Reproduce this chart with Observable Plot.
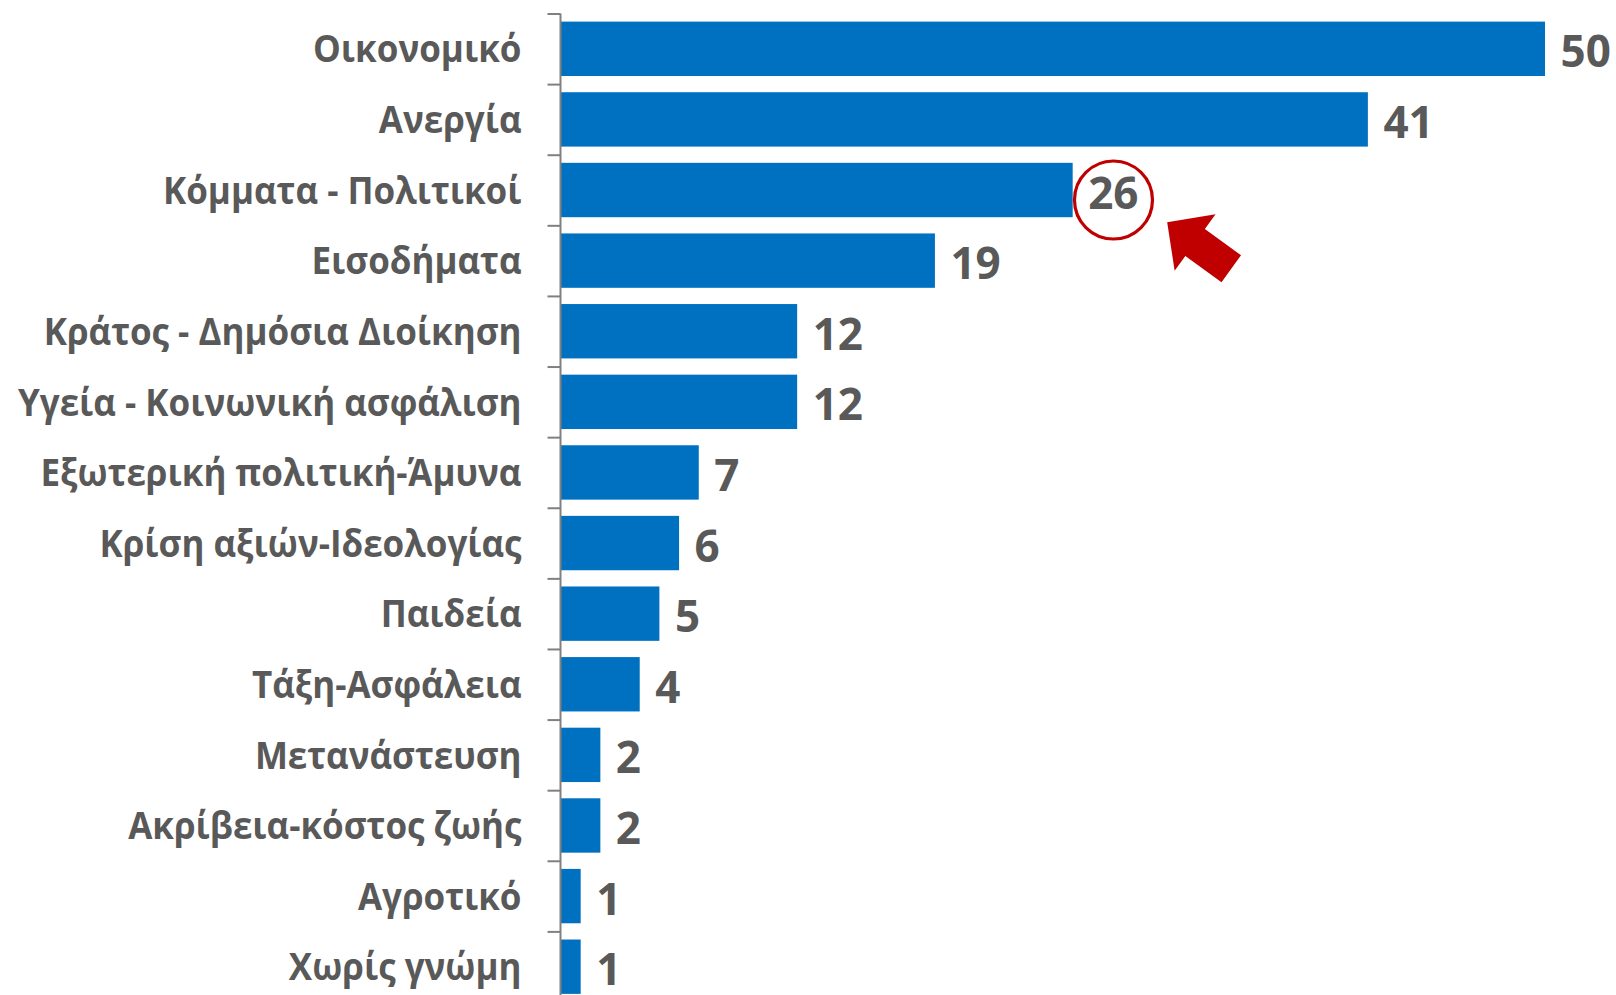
<!DOCTYPE html>
<html>
<head>
<meta charset="utf-8">
<script src="https://cdn.jsdelivr.net/npm/d3@7"></script>
<script src="https://cdn.jsdelivr.net/npm/@observablehq/plot@0.6"></script>
<style>
  html, body { margin: 0; padding: 0; background: #fff; overflow: hidden; }
  #chart svg { display: block; }
</style>
</head>
<body>
<div id="chart"></div>
<script>
const categories = [
  "Οικονομικό",
  "Ανεργία",
  "Κόμματα - Πολιτικοί",
  "Εισοδήματα",
  "Κράτος - Δημόσια Διοίκηση",
  "Υγεία - Κοινωνική ασφάλιση",
  "Εξωτερική πολιτική-Άμυνα",
  "Κρίση αξιών-Ιδεολογίας",
  "Παιδεία",
  "Τάξη-Ασφάλεια",
  "Μετανάστευση",
  "Ακρίβεια-κόστος ζωής",
  "Αγροτικό",
  "Χωρίς γνώμη"
];
const values = [50, 41, 26, 19, 12, 12, 7, 6, 5, 4, 2, 2, 1, 1];
const highlighted = "Κόμματα - Πολιτικοί";

const data = categories.map((c, i) => ({category: c, value: values[i]}));
const highlight = data.filter(d => d.category === highlighted);

const W = 1616, H = 995;
const marginTop = 13.5, marginBottom = -7, marginLeft = 561, marginRight = 71;
const step = (H - marginTop - marginBottom) / categories.length;
const labelCondense = 0.92;

const barColor = "#0070C0";
const textColor = "#595959";
const axisColor = "#808080";
const red = "#C00000";

// short horizontal tick drawn to the left of the anchor
const tickSymbol = {
  draw(context) {
    context.moveTo(-13, 0);
    context.lineTo(0, 0);
  }
};
// block arrow, tip at origin, pointing toward -x (rotated afterwards)
const headLen = 34.5, headHalf = 34.8, shaftHalf = 16.6, totalLen = 79.2;
const arrowSymbol = {
  draw(context) {
    context.moveTo(0, 0);
    context.lineTo(headLen, -headHalf);
    context.lineTo(headLen, -shaftHalf);
    context.lineTo(totalLen, -shaftHalf);
    context.lineTo(totalLen, shaftHalf);
    context.lineTo(headLen, shaftHalf);
    context.lineTo(headLen, headHalf);
    context.closePath();
  }
};

const chart = Plot.plot({
  width: W,
  height: H,
  marginTop, marginBottom, marginLeft, marginRight,
  style: {fontFamily: "'Open Sans', 'Noto Sans', sans-serif", background: "#fff"},
  x: {domain: [0, 50], axis: null},
  y: {domain: categories, paddingInner: 0.23, paddingOuter: 0.115, align: 0.5, round: false, axis: null},
  marks: [
    Plot.barX(data, {x: "value", y: "category", fill: barColor}),
    Plot.ruleX([0], {dx: -1, stroke: axisColor, strokeWidth: 2}),
    Plot.dot(categories, {x: () => 0, y: d => d, dx: -1, dy: -step / 2, symbol: tickSymbol, stroke: axisColor, strokeWidth: 2, fill: "none"}),
    Plot.axisY({
      tickSize: 0, tickPadding: 40, label: null,
      fontSize: 38, fontWeight: "bold", color: textColor, dy: 1
    }),
    Plot.text(data, {
      x: "value", y: "category", text: d => String(d.value),
      textAnchor: "start", dx: 15, dy: 4,
      fontSize: 44, fontWeight: "bold", fill: textColor
    }),
    Plot.dot(highlight, {x: "value", y: "category", r: 39, dx: 40.3, dy: 9.5, stroke: red, strokeWidth: 3.2, fill: "none"}),
    Plot.dot(highlight, {x: "value", y: "category", dx: 94, dy: 31.7, symbol: arrowSymbol, rotate: 36, fill: red, stroke: "none"})
  ]
});
document.getElementById("chart").appendChild(chart);

// Condense the category labels horizontally (the original font is narrower)
function condenseLabels() {
  const set = new Set(categories);
  chart.querySelectorAll("text").forEach(t => {
    if (!set.has(t.textContent)) return;
    t.removeAttribute("textLength");
    t.removeAttribute("lengthAdjust");
    const len = t.getComputedTextLength();
    if (len > 0) {
      t.setAttribute("textLength", (len * labelCondense).toFixed(1));
      t.setAttribute("lengthAdjust", "spacingAndGlyphs");
    }
  });
}
condenseLabels();
if (document.fonts && document.fonts.ready) document.fonts.ready.then(condenseLabels);
</script>
</body>
</html>
